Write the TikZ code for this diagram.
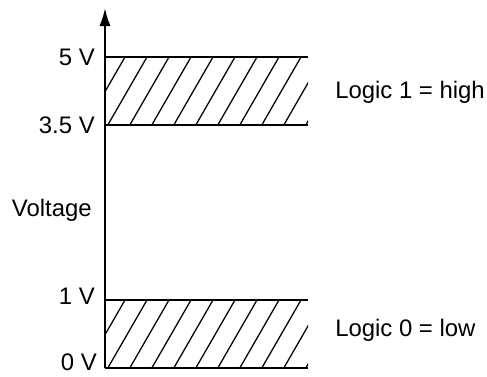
\documentclass[tikz,border=0pt]{standalone}
\usepackage{fontspec}
\setmainfont{Liberation Sans}
\usetikzlibrary{arrows.meta,positioning}

\begin{document}
\begin{tikzpicture}
  \tikzstyle{lbl}=[font=\fontsize{17}{20}\selectfont,inner sep=0pt]
  \tikzstyle{level}=[line width=1.6pt]
  \tikzstyle{hatch}=[line width=0.9pt]
  \useasboundingbox (-2.625,-0.2) rectangle (9.55,9.2);
  \coordinate (o) at (0,0);
  \coordinate (tip) at (0,9.0);
  % bands: 0 V to 1 V and 3.5 V to 5 V
  \foreach \lo/\hi/\name in {0/1.7/low,6.075/7.775/high} {
    \begin{scope}
      \clip (0,\lo) rectangle (5.075,\hi);
      \foreach \k in {0,...,11}
        \draw[hatch] ({0.5+0.55*\k},\hi) -- ({0.5+0.55*\k-0.98},\lo);
    \end{scope}
    \coordinate (\name-a) at (0,\hi);
    \coordinate (\name-b) at (5.075,\hi);
    \coordinate (\name-c) at (0,\lo);
    \coordinate (\name-d) at (5.075,\lo);
    \draw[level] (\name-a) -- (\name-b);
    \draw[level] (\name-c) -- (\name-d);
  }
  \draw[level,-{Latex[length=0.45cm,width=0.28cm]}] (o) -- (tip);
  \node[lbl,anchor=east] (v5) at (-0.25,7.775) {5 V};
  \node[lbl,anchor=east] (v35) at (-0.25,6.075) {3.5 V};
  \node[lbl,anchor=east] (v1) at (-0.25,1.8) {1 V};
  \node[lbl,anchor=east] (v0) at (-0.2,0.15) {0 V};
  \node[lbl,anchor=east] (volt) at (-0.325,3.95) {Voltage};
  \node[lbl,anchor=west] (one) at (5.75,6.9) {Logic 1 = high};
  \node[lbl,anchor=west] (zero) at (5.75,0.95) {Logic 0 = low};
\end{tikzpicture}
\end{document}
